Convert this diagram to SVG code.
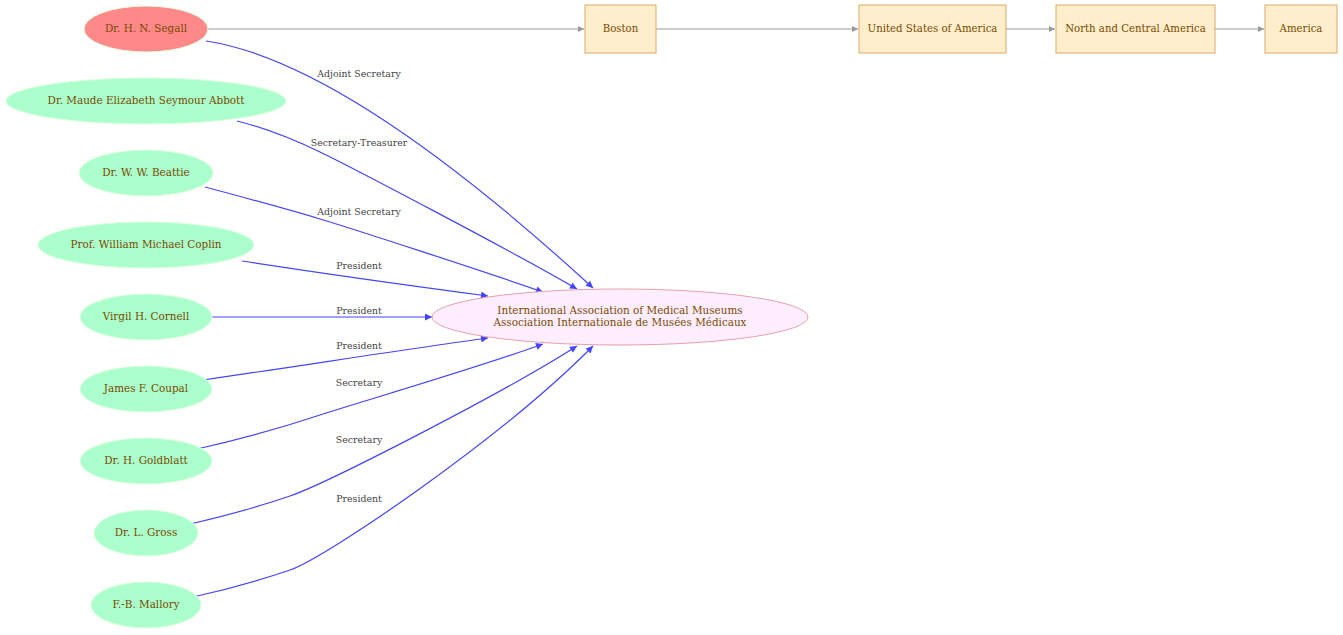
<svg xmlns="http://www.w3.org/2000/svg" width="1343" height="635" viewBox="0 0 1343 635">
<defs>
<marker id="ab" viewBox="0 0 10 10" refX="10" refY="5" markerWidth="10" markerHeight="7" markerUnits="userSpaceOnUse" orient="auto"><path d="M0,0 L10,5 L0,10 z" fill="#4444ff"/></marker>
<marker id="ag" viewBox="0 0 10 10" refX="10" refY="5" markerWidth="9" markerHeight="6" markerUnits="userSpaceOnUse" orient="auto"><path d="M0,0 L10,5 L0,10 z" fill="#999999"/></marker>
<style>
.p ellipse{fill:#aaffcc;stroke:#ddffdd;stroke-width:1}
.n text{font-family:"DejaVu Serif","Liberation Serif",serif;font-size:10.4px;fill:#7a4a00;text-anchor:middle}
.b rect{fill:#ffeecc;stroke:#ddaa66;stroke-width:1}
.b text{font-family:"DejaVu Serif Condensed","DejaVu Serif",serif;font-size:11.3px;fill:#7a4a00;text-anchor:middle}
.e{fill:none;stroke:#4444ff;stroke-width:1.2;marker-end:url(#ab)}
.g{fill:none;stroke:#999999;stroke-width:1.2;marker-end:url(#ag)}
.l{font-family:"DejaVu Serif","Liberation Serif",serif;font-size:9.4px;fill:#444444;text-anchor:middle}
</style>
</defs>
<rect width="1343" height="635" fill="#ffffff"/>
<g id="connectors">
<path class="g" d="M208,29 L584,29"/>
<path class="g" d="M656,29 L858,29"/>
<path class="g" d="M1006,29 L1055,29"/>
<path class="g" d="M1215,29 L1264,29"/>
<path class="e" d="M206,41 C320,58 470,175 593,288"/>
<path class="e" d="M237,121 C265,128 295,140 320,152 S510,250 577,289"/>
<path class="e" d="M205,187 C250,199 290,210 320,219 S480,270 543,292"/>
<path class="e" d="M242,261 C320,273 420,287 488,296"/>
<path class="e" d="M212,317 L432,317"/>
<path class="e" d="M203,380 C300,366 420,347 488,338"/>
<path class="e" d="M197,449 C250,437 290,425 320,415 S480,367 543,344"/>
<path class="e" d="M190,524 C225,516 255,508 290,496 S500,395 577,346"/>
<path class="e" d="M193,597 C225,590 255,582 290,570 S500,440 593,346"/>
<text class="l" x="359" y="77">Adjoint Secretary</text>
<text class="l" x="359" y="146">Secretary-Treasurer</text>
<text class="l" x="359" y="215">Adjoint Secretary</text>
<text class="l" x="359" y="269">President</text>
<text class="l" x="359" y="314">President</text>
<text class="l" x="359" y="349">President</text>
<text class="l" x="359" y="386">Secretary</text>
<text class="l" x="359" y="443">Secretary</text>
<text class="l" x="359" y="502">President</text>
</g>
<g id="segall" class="n"><ellipse cx="146" cy="29" rx="62" ry="23" fill="#ff8888" stroke="#ddffdd"/><text x="146" y="32">Dr. H. N. Segall</text></g>
<g id="abbott" class="n p"><ellipse cx="146" cy="101" rx="140" ry="23"/><text x="146" y="104">Dr. Maude Elizabeth Seymour Abbott</text></g>
<g id="beattie" class="n p"><ellipse cx="146" cy="173" rx="67" ry="23"/><text x="146" y="176">Dr. W. W. Beattie</text></g>
<g id="coplin" class="n p"><ellipse cx="146" cy="245" rx="108" ry="23"/><text x="146" y="248">Prof. William Michael Coplin</text></g>
<g id="cornell" class="n p"><ellipse cx="146" cy="317" rx="66" ry="23"/><text x="146" y="320">Virgil H. Cornell</text></g>
<g id="coupal" class="n p"><ellipse cx="146" cy="389" rx="66" ry="23"/><text x="146" y="392">James F. Coupal</text></g>
<g id="goldblatt" class="n p"><ellipse cx="146" cy="461" rx="66" ry="23"/><text x="146" y="464">Dr. H. Goldblatt</text></g>
<g id="gross" class="n p"><ellipse cx="146" cy="533" rx="52" ry="23"/><text x="146" y="536">Dr. L. Gross</text></g>
<g id="mallory" class="n p"><ellipse cx="146" cy="605" rx="55" ry="23"/><text x="146" y="608">F.-B. Mallory</text></g>
<g id="iamm" class="n"><ellipse cx="620" cy="317" rx="188" ry="28" fill="#ffeeff" stroke="#e8a0a8"/><text x="620" y="313.5">International Association of Medical Museums</text><text x="620" y="326">Association Internationale de Musées Médicaux</text></g>
<g id="boston" class="b"><rect x="585" y="5" width="71" height="48"/><text x="620.5" y="32">Boston</text></g>
<g id="usa" class="b"><rect x="859" y="5" width="147" height="48"/><text x="932.5" y="32">United States of America</text></g>
<g id="nca" class="b"><rect x="1056" y="5" width="159" height="48"/><text x="1135.5" y="32">North and Central America</text></g>
<g id="america" class="b"><rect x="1265" y="5" width="72" height="48"/><text x="1301" y="32">America</text></g>
</svg>
